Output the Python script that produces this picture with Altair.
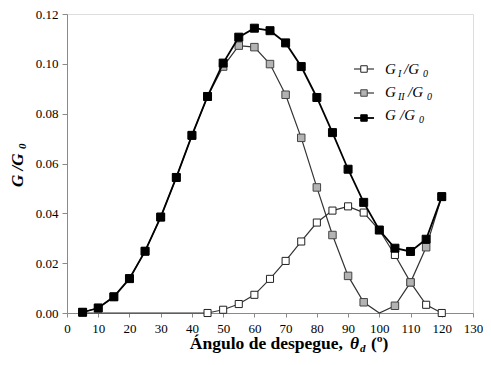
import altair as alt
import pandas as pd

# ---------------- data ----------------
angles = [5, 10, 15, 20, 25, 30, 35, 40, 45, 50, 55, 60,
          65, 70, 75, 80, 85, 90, 95, 100, 105, 110, 115, 120]

g_i = [0.0, 0.0, 0.0, 0.0, 0.0, 0.0, 0.0, 0.0, 0.0, 0.0013, 0.0036, 0.0073,
       0.0137, 0.0209, 0.0287, 0.0363, 0.0411, 0.0428, 0.0403, 0.0333, 0.0233, 0.0123, 0.0033, 0.0]

g_ii = [0.0003, 0.0020, 0.0065, 0.0138, 0.0248, 0.0385, 0.0544, 0.0713, 0.0869, 0.0989, 0.1073, 0.1067,
        0.0999, 0.0876, 0.0703, 0.0504, 0.0313, 0.0149, 0.0043, 0.0, 0.0029, 0.0123, 0.0264, 0.0467]

g_total = [0.0003, 0.0020, 0.0065, 0.0138, 0.0248, 0.0385, 0.0544, 0.0713, 0.0869, 0.1003, 0.1107, 0.1143,
           0.1133, 0.1084, 0.0989, 0.0865, 0.0724, 0.0577, 0.0444, 0.0333, 0.0260, 0.0247, 0.0296, 0.0467]

series_names = ["GI", "GII", "G"]
x_ticks = [0, 10, 20, 30, 40, 50, 60, 70, 80, 90, 100, 110, 120, 130]
y_ticks = [0.0, 0.02, 0.04, 0.06, 0.08, 0.10, 0.12]

rows = []
for name, vals in zip(series_names, [g_i, g_ii, g_total]):
    for a, v in zip(angles, vals):
        rows.append({"angle": a, "value": v, "series": name})
df = pd.DataFrame(rows)

SERIF = "Liberation Serif, Times New Roman, serif"
AX = "#8a8a8a"
OX, OY = 67, 14  # page position of plot origin
W, H = 406, 299

x_enc = alt.X("angle:Q", scale=alt.Scale(domain=[0, 130], nice=False),
              axis=alt.Axis(values=x_ticks, title=None, grid=False, labelFont=SERIF,
                            labelFontSize=13, labelColor="black", domainColor=AX,
                            tickColor=AX, tickSize=4, labelPadding=5, labelFlush=False,
                            labelOverlap=False))
y_enc = alt.Y("value:Q", scale=alt.Scale(domain=[0, 0.12], nice=False),
              axis=alt.Axis(values=y_ticks, format=".2f", title=None, grid=False,
                            labelFont=SERIF, labelFontSize=13, labelColor="black",
                            domainColor=AX, tickColor=AX, tickSize=5, labelPadding=4,
                            labelFlush=False, labelOverlap=False))

base = alt.Chart(df).encode(x=x_enc, y=y_enc)

styles = {
    "GI": dict(line="#333333", lw=1.2, fill="white", stroke="#222222", size=50, filt="datum.angle >= 45"),
    "GII": dict(line="#333333", lw=1.2, fill="#b3b3b3", stroke="#444444", size=56, filt="datum.angle != 100"),
    "G": dict(line="black", lw=1.8, fill="black", stroke="black", size=64, filt="true"),
}

layers = []
for name in series_names:
    s = styles[name]
    sel = base.transform_filter(f"datum.series == '{name}'")
    layers.append(sel.mark_line(color=s["line"], strokeWidth=s["lw"]))
    layers.append(sel.transform_filter(s["filt"]).mark_point(
        shape="square", filled=True, fill=s["fill"], stroke=s["stroke"],
        strokeWidth=1, size=s["size"], opacity=1))

one = pd.DataFrame({"k": [0]})


def txt(s, x, y, size, style="normal", weight="normal", angle=0, align="left"):
    return alt.Chart(one).mark_text(
        text=s, font=SERIF, fontSize=size, fontStyle=style, fontWeight=weight,
        angle=angle, align=align, baseline="alphabetic", color="black"
    ).encode(x=alt.value(x - OX), y=alt.value(y - OY))


# ---------------- legend ----------------
leg_rows = [69, 93, 118]
for name, ly in zip(series_names, leg_rows):
    s = styles[name]
    layers.append(alt.Chart(one).mark_rule(color=s["line"], strokeWidth=s["lw"]).encode(
        x=alt.value(354 - OX), x2=alt.value(374 - OX), y=alt.value(ly - OY)))
    layers.append(alt.Chart(one).mark_point(
        shape="square", filled=True, fill=s["fill"], stroke=s["stroke"], strokeWidth=1,
        size=42, opacity=1).encode(x=alt.value(364 - OX), y=alt.value(ly - OY)))

# G_I / G_0
layers += [txt("G", 385, 74, 15, "italic"), txt("I", 398, 77, 10, "italic"),
           txt("/G", 404, 74, 15, "italic"), txt("0", 423, 77, 10, "italic")]
# G_II / G_0
layers += [txt("G", 385, 97, 15, "italic"), txt("II", 398, 100, 10, "italic"),
           txt("/G", 408, 97, 15, "italic"), txt("0", 427, 100, 10, "italic")]
# G / G_0
layers += [txt("G", 385, 120, 15, "italic"), txt("/G", 400, 120, 15, "italic"),
           txt("0", 419, 123, 10, "italic")]

# ---------------- axis titles ----------------
layers += [txt("G /G", 23, 187, 17, "italic", "bold", angle=270),
           txt("0", 26, 149, 11, "italic", "bold", angle=270)]
layers += [txt("Ángulo de despegue,", 343, 349, 17.5, "normal", "bold", align="right"),
           txt("θ", 350, 349, 17.5, "italic", "bold"),
           txt("d", 360, 352, 11, "italic", "bold"),
           txt("(º)", 371, 349, 17.5, "normal", "bold")]

chart = alt.layer(*layers).properties(
    width=W, height=H,
    autosize=alt.AutoSizeParams(type="none"),
    padding={"left": OX - 8, "top": OY - 8, "right": 10, "bottom": 40},
).configure_view(stroke=None).configure(
    background="white", font=SERIF
).configure_axis(labelFont=SERIF)

chart.save("out.html", embed_options={"renderer": "svg", "actions": False})
